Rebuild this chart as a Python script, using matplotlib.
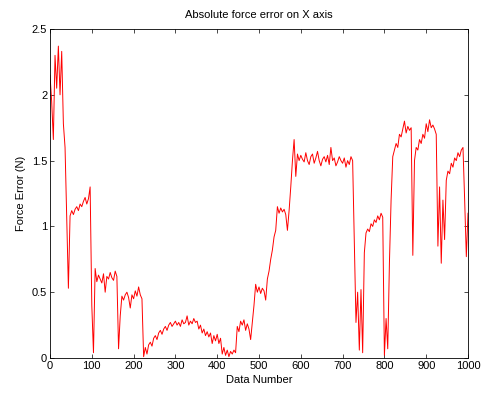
import numpy as np
import matplotlib
matplotlib.use("Agg")
import matplotlib.pyplot as plt

force_err = [
    2.15, 1.95, 1.66, 2.30, 2.05, 2.37, 2.00, 2.33, 1.78, 1.60, 1.05, 0.53, 1.08,
    1.12, 1.09, 1.13, 1.15, 1.12, 1.17, 1.15, 1.19, 1.22, 1.17, 1.21, 1.30,          # 0-96
    0.40, 0.04, 0.68, 0.58, 0.63, 0.60, 0.57, 0.64, 0.50, 0.62, 0.60, 0.65, 0.61,
    0.59, 0.66, 0.62, 0.07, 0.32, 0.47, 0.44, 0.48, 0.50, 0.46, 0.38, 0.48,          # 100-196
    0.45, 0.51, 0.47, 0.54, 0.48, 0.45, 0.01, 0.08, 0.03, 0.10, 0.12, 0.09, 0.15,
    0.17, 0.14, 0.19, 0.21, 0.18, 0.22, 0.24, 0.21, 0.25, 0.27, 0.24, 0.26,          # 200-296
    0.28, 0.25, 0.27, 0.24, 0.29, 0.26, 0.27, 0.32, 0.25, 0.28, 0.26, 0.30, 0.27,
    0.28, 0.22, 0.25, 0.19, 0.22, 0.17, 0.20, 0.16, 0.19, 0.11, 0.17, 0.13,          # 300-396
    0.18, 0.11, 0.15, 0.03, 0.08, 0.02, 0.06, 0.01, 0.05, 0.03, 0.06, 0.04, 0.24,
    0.20, 0.28, 0.25, 0.29, 0.21, 0.26, 0.22, 0.14, 0.27, 0.40, 0.56, 0.50,          # 400-496
    0.54, 0.49, 0.53, 0.51, 0.44, 0.60, 0.66, 0.75, 0.82, 0.92, 0.97, 1.15, 1.10,
    1.14, 1.11, 1.13, 1.09, 0.97, 1.12, 1.30, 1.50, 1.66, 1.38, 1.55, 1.50,          # 500-596
    1.54, 1.51, 1.49, 1.56, 1.50, 1.47, 1.53, 1.55, 1.48, 1.52, 1.57, 1.50, 1.46,
    1.51, 1.53, 1.49, 1.54, 1.47, 1.60, 1.50, 1.52, 1.46, 1.49, 1.53, 1.50,          # 600-696
    1.48, 1.52, 1.45, 1.50, 1.47, 1.53, 1.50, 0.90, 0.27, 0.50, 0.06, 0.52, 0.04,
    0.80, 0.95, 0.98, 0.96, 1.02, 1.00, 1.05, 1.03, 1.08, 1.05, 1.10, 1.07,          # 700-796
    0.02, 0.30, 0.07, 0.72, 1.20, 1.53, 1.58, 1.63, 1.60, 1.70, 1.68, 1.74, 1.80,
    1.71, 1.76, 1.73, 1.75, 0.78, 1.50, 1.60, 1.58, 1.66, 1.63, 1.70, 1.67,          # 800-896
    1.78, 1.72, 1.81, 1.75, 1.77, 1.74, 1.70, 0.85, 1.30, 0.72, 1.20, 0.90, 1.35,
    1.42, 1.40, 1.48, 1.45, 1.52, 1.50, 1.56, 1.53, 1.58, 1.60, 1.20, 0.77,          # 900-996
    1.10,                                                                            # 1000
]
data_number = np.arange(0, 1001, 4)

plt.rcParams['font.family'] = ['Liberation Sans', 'DejaVu Sans']
plt.rcParams['font.size'] = 8

fig = plt.figure(figsize=(4.82, 3.94), dpi=100)
ax = fig.add_axes([50/482, 36/394, 418/482, 329/394])
ax.plot(data_number, force_err, color='red', lw=0.7)

ax.set_xlim(0, 1000)
ax.set_ylim(0, 2.5)
ax.set_xticks(np.arange(0, 1001, 100))
ax.set_yticks([0, 0.5, 1, 1.5, 2, 2.5])
ax.set_yticklabels(['0', '0.5', '1', '1.5', '2', '2.5'])
ax.tick_params(direction='in', top=True, right=True, length=3, width=0.5, pad=2)
for s in ax.spines.values():
    s.set_linewidth(0.6)

ax.set_title("Absolute force error on X axis", fontsize=8, pad=8)
ax.set_xlabel("Data Number", labelpad=3)
ax.set_ylabel("Force Error (N)", labelpad=4)

plt.savefig("out.png", dpi=100)
